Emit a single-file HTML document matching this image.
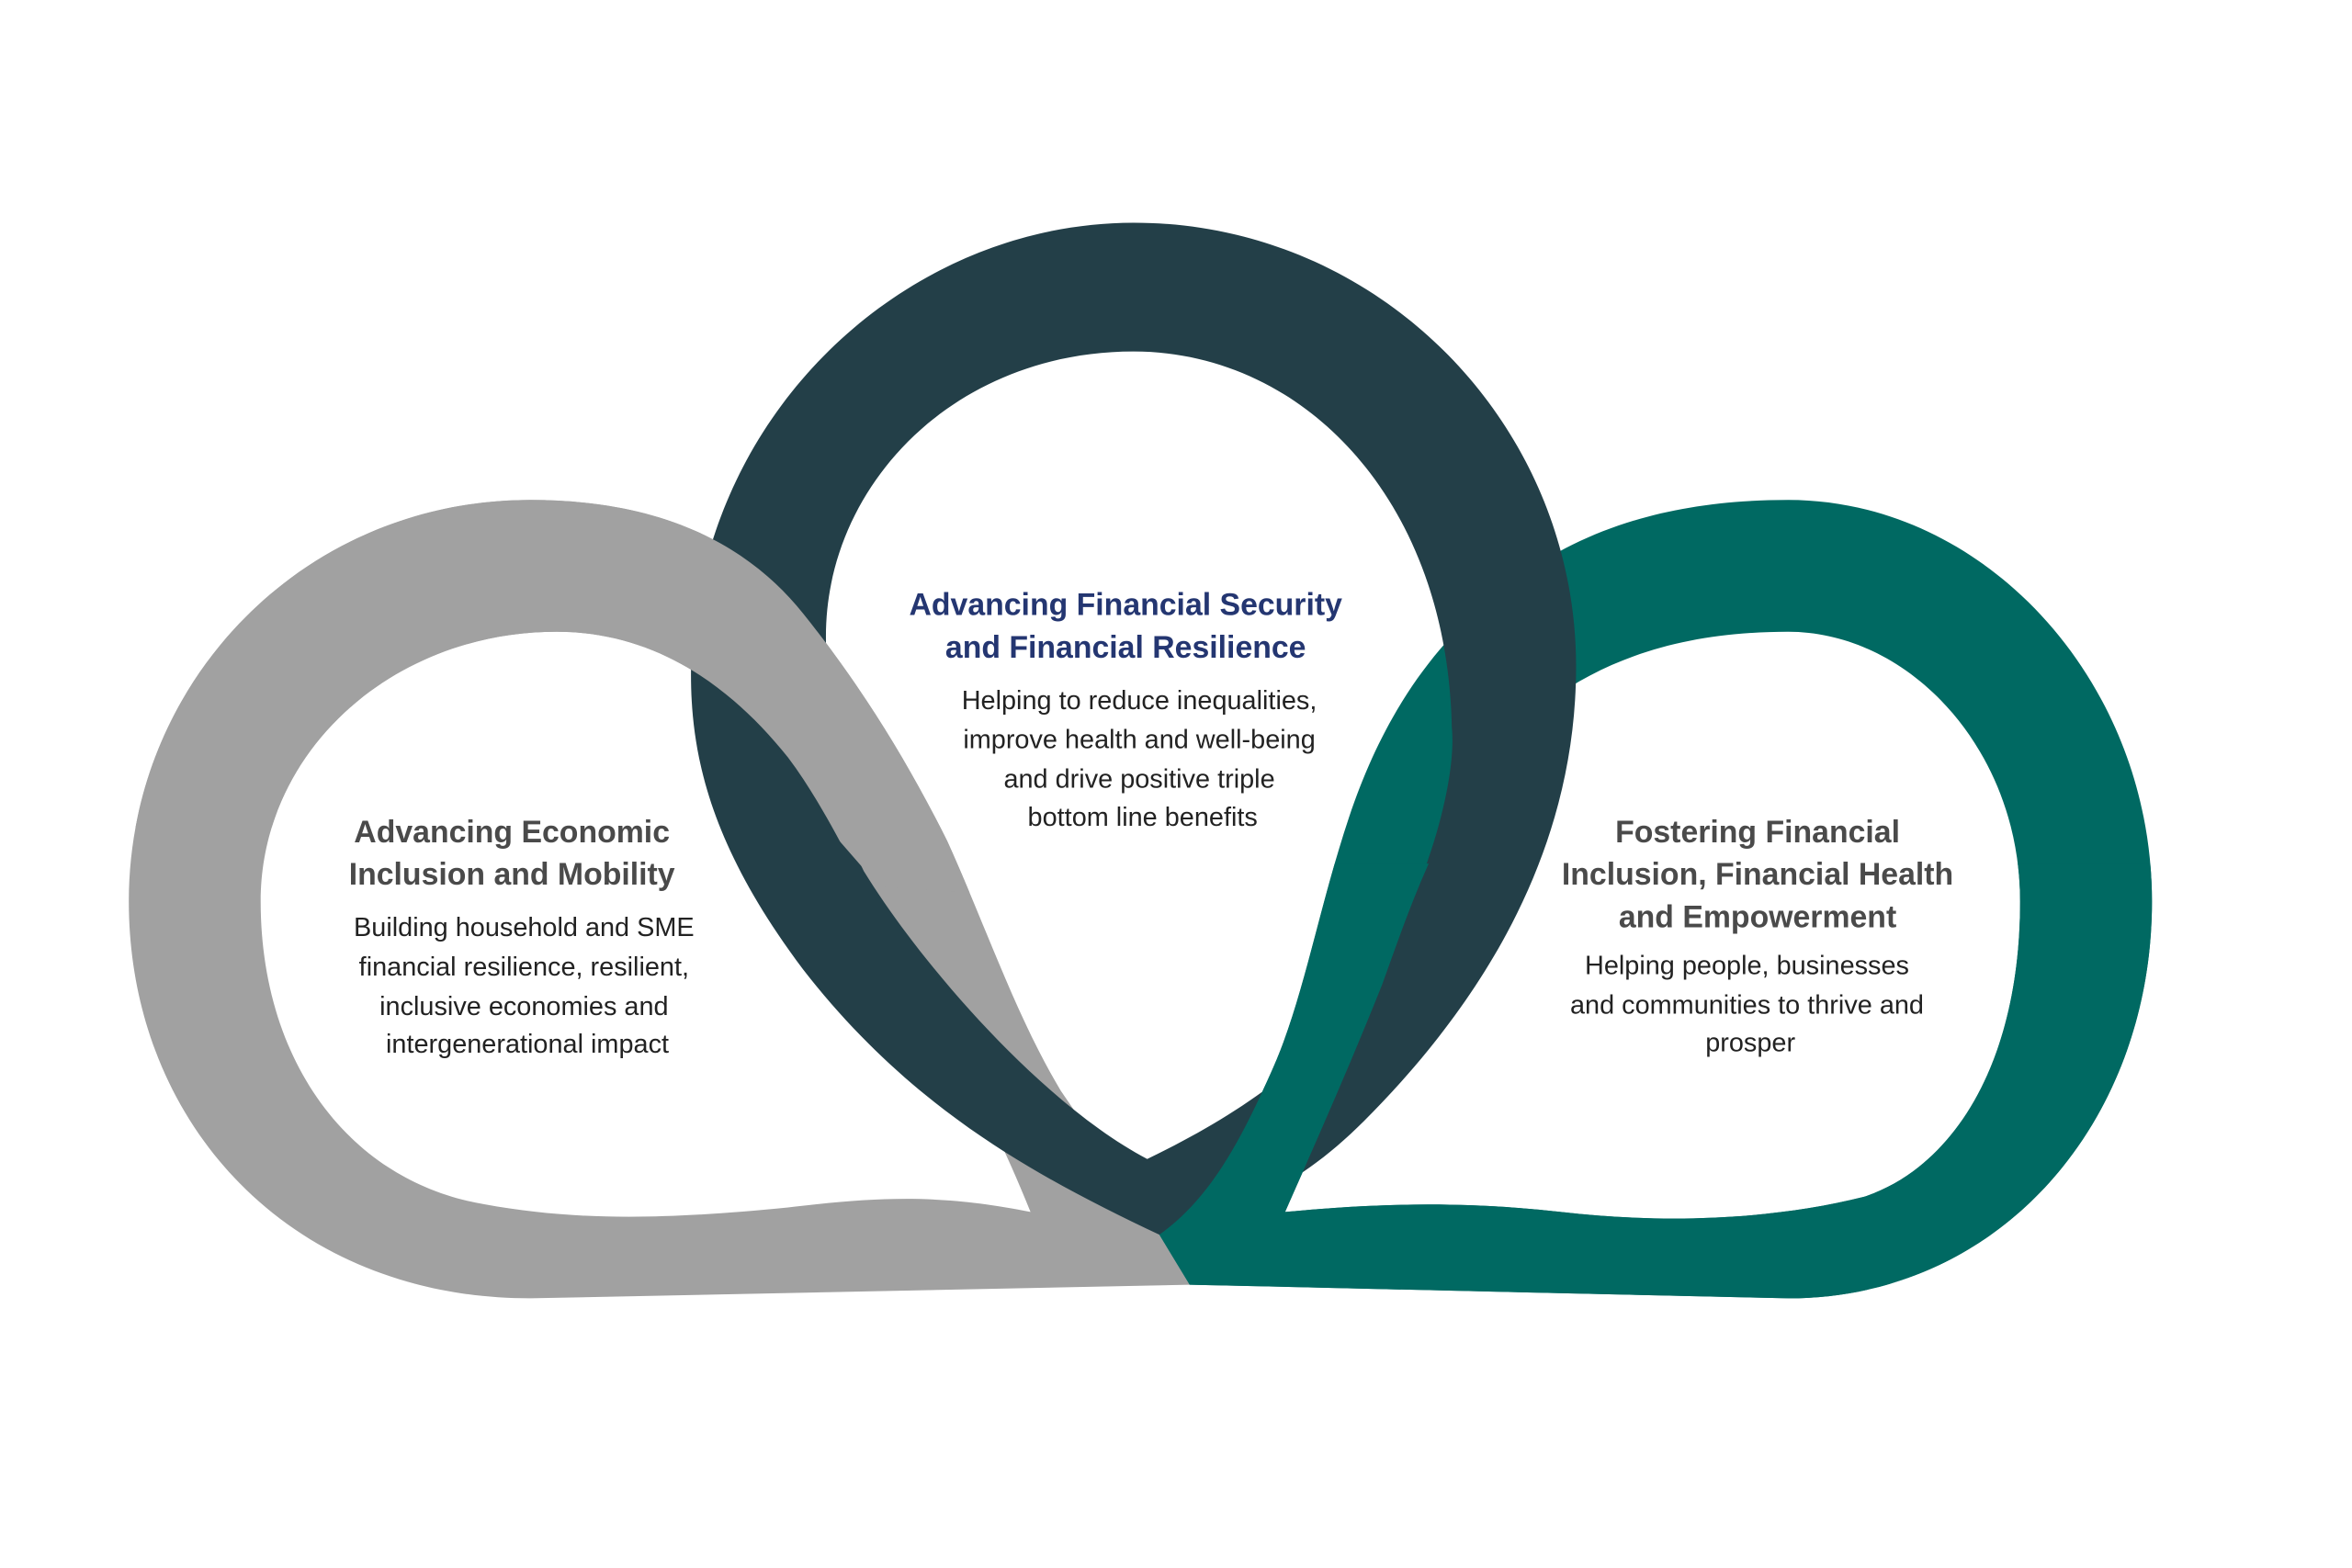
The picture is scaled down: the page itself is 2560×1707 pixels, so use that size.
<!DOCTYPE html>
<html><head><meta charset="utf-8"><style>
html,body{margin:0;padding:0;background:#fff;}
svg{display:block;}
text{font-family:"Liberation Sans",Arial,sans-serif;}
.t{font-weight:bold;font-size:20.5px;fill:#4a4a4a;}
.b{font-size:17.5px;fill:#222;}
</style></head><body>
<svg width="2560" height="1707" viewBox="0 0 1552 1035" preserveAspectRatio="none" xmlns="http://www.w3.org/2000/svg">
<defs>
<path id="gray" fill-rule="evenodd" d="M785,848 L350,857 C190,857 85,740 85,595 C85,450 200,330 350,330 C430,330 490,355 530,405 C570,455 600,505 625,555 C650,610 670,670 700,720 L765,815 Z
M680,800 C620,788 580,790 520,797 C440,805 380,806 320,795 C230,780 172,700 172,595 C172,495 260,417 367,417 C430,417 480,450 520,500 C550,540 570,590 600,640 C630,690 660,750 680,800 Z"/>
<path id="dark" fill-rule="evenodd" d="M765,815 C680,775 600,730 530,640 C470,560 455,500 456,440 C462,270 600,147 748,147 C910,147 1040,280 1040,440 C1040,560 980,660 900,740 C860,780 820,800 765,815 Z
M757,765 C830,730 900,680 930,600 C955,540 960,500 958,480 C955,330 860,232 748,232 C630,232 545,320 545,420 C545,480 552,540 570,575 C610,640 690,730 757,765 Z"/>
<path id="teal" fill-rule="evenodd" d="M785,848 L1180,857 C1320,857 1420,740 1420,595 C1420,450 1310,330 1180,330 C1100,330 1040,350 990,390 C940,430 910,480 890,540 C870,600 860,660 840,705 C820,750 800,790 765,815 Z
M848,800 C900,795 960,792 1030,800 C1100,808 1170,805 1230,790 C1290,770 1333,700 1333,595 C1333,495 1260,417 1180,417 C1100,417 1040,440 990,490 C950,540 930,600 912,650 C890,705 870,750 848,800 Z"/>
<clipPath id="topc"><polygon points="0,0 800,0 800,600 580,585 546,546 0,546"/></clipPath>
<clipPath id="botc"><rect x="0" y="570" width="1552" height="500"/></clipPath>
</defs>
<use href="#gray" fill="#a1a1a1"/>
<use href="#teal" fill="#006962"/>
<use href="#dark" fill="#233f48"/>
<use href="#gray" fill="#a1a1a1" clip-path="url(#topc)"/>
<use href="#teal" fill="#006962" clip-path="url(#botc)"/>

<text text-anchor="middle">
<tspan class="t" x="745" y="406" style="fill:#243671">Advancing Financial Security</tspan>
<tspan class="t" x="745" y="434" style="fill:#243671">and Financial Resilience</tspan>
<tspan class="b" x="754" y="468">Helping to reduce inequalities,</tspan>
<tspan class="b" x="754" y="494">improve health and well-being</tspan>
<tspan class="b" x="754" y="520">and drive positive triple</tspan>
<tspan class="b" x="754" y="545">bottom line benefits</tspan>
</text>
<text text-anchor="middle">
<tspan class="t" x="340" y="556">Advancing Economic</tspan>
<tspan class="t" x="340" y="584">Inclusion and Mobility</tspan>
<tspan class="b" x="348" y="618">Building household and SME</tspan>
<tspan class="b" x="348" y="644">financial resilience, resilient,</tspan>
<tspan class="b" x="348" y="670">inclusive economies and</tspan>
<tspan class="b" x="348" y="695">intergenerational impact</tspan>
</text>
<text text-anchor="middle">
<tspan class="t" x="1162" y="556">Fostering Financial</tspan>
<tspan class="t" x="1162" y="584">Inclusion, Financial Health</tspan>
<tspan class="t" x="1162" y="612">and Empowerment</tspan>
<tspan class="b" x="1155" y="643">Helping people, businesses</tspan>
<tspan class="b" x="1155" y="669">and communities to thrive and</tspan>
<tspan class="b" x="1155" y="694">prosper</tspan>
</text>
</svg>
</body></html>
